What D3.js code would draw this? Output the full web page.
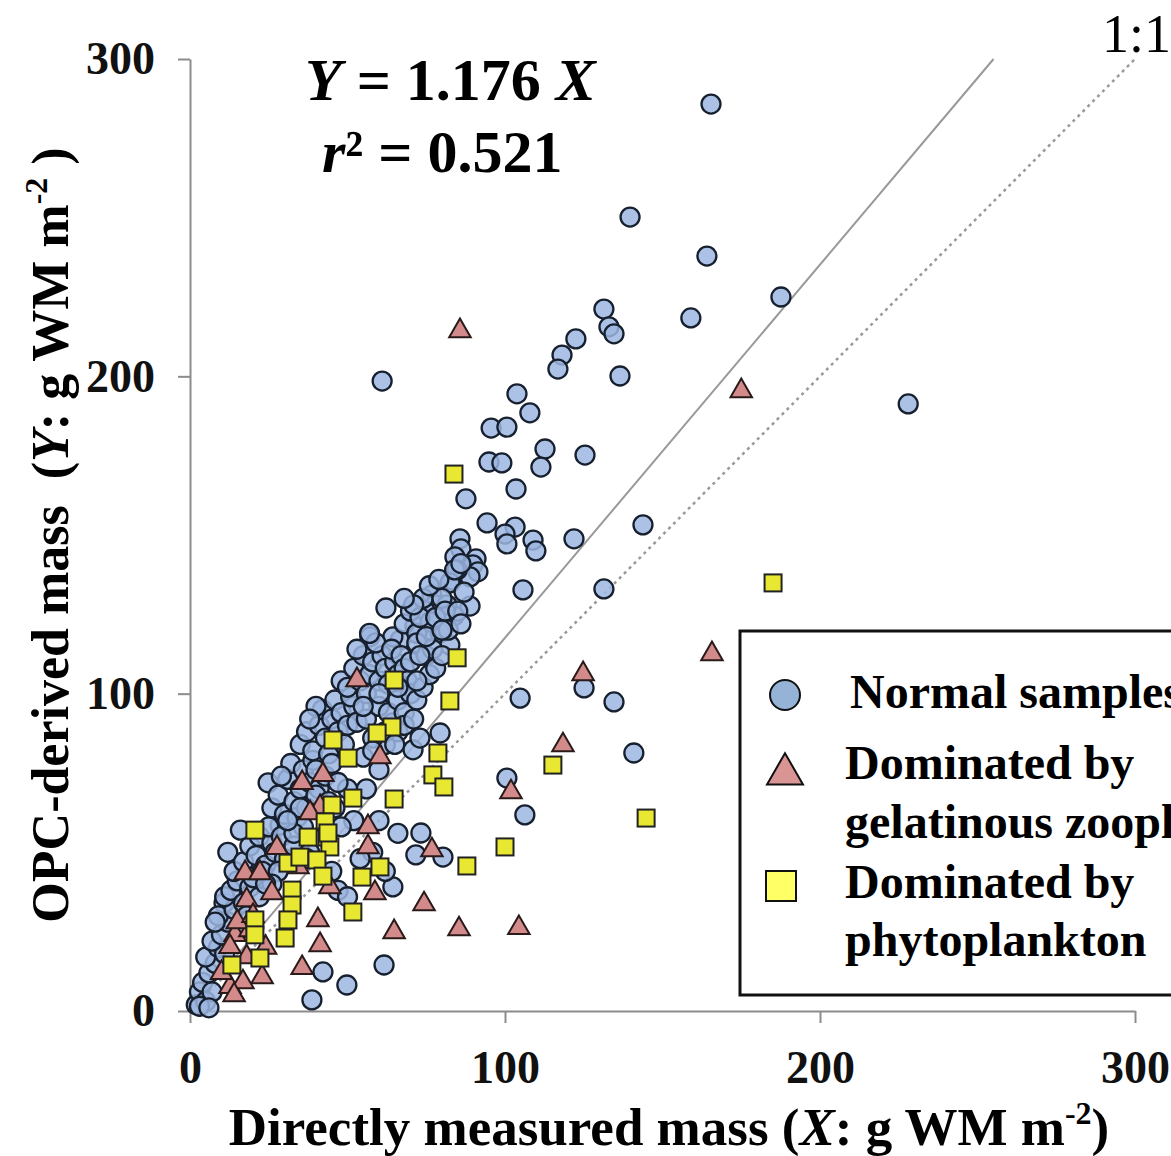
<!DOCTYPE html>
<html>
<head>
<meta charset="utf-8">
<script src="https://cdn.jsdelivr.net/npm/d3@7"></script>
<style>
  body { margin: 0; background: #fff; }
  svg { display: block; font-family: 'Liberation Serif', 'Times New Roman', serif; }
</style>
</head>
<body>
<div id="chart"></div>
<script>
// Data: [X measured, Y OPC-derived] in g WM m-2
var normalSamples = [
  [165.4, 285.8], [139.7, 250.2], [164.1, 237.9], [187.6, 225.0], [131.4, 221.2],
  [159.0, 218.4], [133.0, 215.6], [134.6, 213.4], [122.5, 211.8], [118.1, 206.7],
  [116.8, 202.3], [136.5, 200.1], [61.0, 198.5], [103.8, 194.5], [107.9, 188.5],
  [228.0, 191.3], [95.6, 183.7], [100.6, 184.0], [112.7, 177.1], [94.9, 173.0],
  [99.0, 172.7], [125.4, 175.2], [111.4, 171.4], [103.5, 164.5], [87.6, 161.4],
  [143.8, 153.2], [94.3, 153.8], [103.2, 152.5], [108.9, 148.4], [100.0, 150.3],
  [121.9, 148.8], [100.6, 147.2], [109.8, 145.0], [85.7, 148.8], [86.0, 145.6],
  [84.1, 143.1], [90.8, 142.5], [89.8, 140.6], [91.4, 138.4], [83.2, 135.8],
  [88.9, 136.8], [105.7, 132.7], [131.4, 133.0], [62.2, 127.0], [88.9, 127.6],
  [76.8, 131.1], [77.8, 128.0], [83.8, 124.5], [66.7, 116.9], [57.1, 117.9],
  [74.6, 126.1], [71.4, 121.3], [76.2, 120.1], [79.4, 119.1], [82.5, 115.3],
  [84.8, 139.0], [82.5, 134.9], [81.6, 128.0], [76.2, 122.6],
  [104.8, 98.6], [125.1, 101.8], [134.6, 97.4], [140.9, 81.3], [100.6, 73.4],
  [106.3, 61.8], [73.3, 56.1], [71.7, 49.2], [24.8, 71.9], [10.8, 34.0],
  [42.2, 12.3], [49.8, 8.2], [38.7, 3.5], [61.6, 14.5], [64.4, 39.1],
  [80.3, 48.5], [79.4, 87.6], [70.8, 82.3], [64.4, 90.8], [64.4, 117.9], [28.6, 58.6],
  [2, 2], [3, 6], [5, 3], [4, 9], [6, 12], [7, 6], [8, 15], [5, 17], [9, 20],
  [11, 18], [3, 1.5], [6, 1], [7, 22],
  [10, 24], [12, 28], [9, 30], [14, 32], [11, 36], [16, 26], [13, 38], [17, 34],
  [15, 41], [19, 39], [8, 28],
  [12, 50], [14, 44], [17, 47], [19, 52], [21, 49], [16, 57], [22, 55], [24, 46],
  [26, 53], [20, 42], [25, 58], [27, 50], [23, 44], [29, 55],
  [26, 64], [28, 68], [30, 62], [31, 73], [33, 66], [35, 70], [32, 78], [36, 76],
  [38, 72], [34, 61], [29, 74], [37, 64], [39, 79], [41, 70],
  [35, 84], [37, 88], [39, 82], [41, 90], [43, 86], [42, 95], [45, 92], [44, 81],
  [47, 88], [46, 98], [48, 94], [50, 90], [49, 84], [52, 96], [40, 96], [38, 92],
  [51, 99], [53, 91],
  [48, 104], [50, 102], [52, 108], [54, 104], [55, 112], [57, 106], [56, 100],
  [58, 110], [60, 104], [61, 112], [59, 116], [62, 108], [63, 103], [65, 110],
  [64, 114], [66, 106], [67, 112], [68, 108], [53, 114], [57, 119], [70, 110], [69, 104],
  [68, 122], [70, 126], [72, 119], [73, 124], [74, 130], [78, 124], [80, 130],
  [81, 126], [76, 134], [79, 136], [84, 139], [86, 141], [87, 132], [72, 116],
  [75, 112], [77, 114],
  [62, 44], [58, 50], [54, 48], [66, 56], [60, 60], [52, 60], [48, 58], [46, 64],
  [56, 70], [50, 70], [60, 76], [55, 80], [62, 84], [66, 88], [58, 86],
  [56, 92], [60, 96], [63, 94], [66, 98], [68, 94], [70, 100], [72, 98], [58, 82],
  [62, 88], [65, 84], [68, 90], [71, 92], [73, 86], [60, 100], [55, 96],
  [74, 102], [76, 106], [72, 104], [78, 108], [80, 112], [75, 118], [82, 120],
  [85, 126], [86, 122], [71, 128], [68, 130], [80, 120], [73, 112], [66, 102],
  [30, 48], [33, 52], [36, 58], [38, 50], [28, 44], [26, 40], [22, 36], [24, 40],
  [18, 30], [35, 64], [40, 68], [43, 74], [45, 78], [47, 72], [40, 76], [44, 66],
  [33, 56], [31, 60], [37, 48], [47, 38], [50, 36], [45, 44]
]

var gelatinous = [
  [85.7, 214.3], [175.0, 195.4], [165.7, 112.5], [124.8, 106.2], [118.4, 83.8],
  [101.9, 69.0], [85.4, 25.8], [104.4, 26.2], [74.3, 33.7], [64.8, 24.9],
  [40.6, 28.7], [41.3, 20.8], [35.6, 13.6], [56.5, 58.0], [56.5, 51.7],
  [58.7, 37.2], [76.8, 50.7], [53.0, 104.3], [35.6, 71.9], [42.2, 74.4],
  [27.6, 51.4], [17.5, 43.5], [22.2, 43.5], [18.0, 35.0], [14.3, 24.0],
  [12.7, 20.2], [18.0, 17.0], [22.9, 10.7], [12.7, 7.6], [16.8, 9.1],
  [19.0, 25.5], [26.0, 37.2], [41.3, 64.3], [38.1, 62.4], [60.3, 80.0],
  [44.4, 39.1], [34.3, 45.4], [15, 28], [20, 30], [10, 12], [14, 5], [24, 20]
]

var phytoplankton = [
  [83.8, 169.2], [185.1, 134.9], [84.8, 111.3], [64.8, 104.3], [82.5, 97.7],
  [115.2, 77.5], [77.1, 74.4], [80.6, 70.6], [78.7, 81.3], [64.8, 66.8],
  [144.8, 60.8], [100.0, 51.7], [87.9, 45.7], [64.1, 89.5], [59.4, 87.6],
  [45.4, 85.4], [50.2, 79.7], [51.7, 67.1], [45.1, 64.9], [42.9, 59.6],
  [37.5, 54.8], [43.5, 54.8], [44.4, 51.7], [20.6, 57.0], [31.1, 46.6],
  [34.9, 48.5], [40.3, 47.6], [42.2, 42.5], [32.4, 38.1], [32.4, 33.4],
  [31.1, 28.7], [20.6, 28.7], [20.6, 24.0], [30.2, 23.0], [22.2, 16.7],
  [13.3, 14.5], [54.6, 42.2], [60.3, 45.4], [51.7, 31.2], [43.8, 56.1]
]

var xTicks = [0, 100, 200, 300]
var yTicks = [0, 100, 200, 300]
var slope = 1.176
var legendLabels = [
  ['Normal samples'],
  ['Dominated by', 'gelatinous zooplankton'],
  ['Dominated by', 'phytoplankton']
]

;(function () {
  // Dimensions
  var w = 1171
  var h = 1156
  var plotLeft = 190
  var plotRight = 1135
  var plotTop = 59
  var plotBottom = 1011

  var svg = d3.select('#chart').append('svg')
    .attr('width', w)
    .attr('height', h)

  var x = d3.scaleLinear().domain([0, 300]).range([plotLeft, plotRight])
  var y = d3.scaleLinear().domain([0, 300]).range([plotBottom, plotTop])

  // Axes
  svg.append('g')
    .attr('transform', 'translate(' + plotLeft + ',0)')
    .call(d3.axisLeft(y).tickValues(yTicks).tickSize(12).tickSizeOuter(0).tickPadding(23))
  svg.append('g')
    .attr('transform', 'translate(0,' + plotBottom + ')')
    .call(d3.axisBottom(x).tickValues(xTicks).tickSize(12).tickSizeOuter(0).tickPadding(27))

  svg.selectAll('.domain, .tick line')
    .attr('stroke', '#8c8c8c')
    .attr('stroke-width', 2)
  svg.selectAll('.tick text')
    .attr('font-family', "'Liberation Serif', serif")
    .attr('font-size', 46)
    .attr('font-weight', 'bold')
    .attr('fill', '#111')

  // Regression line and 1:1 line
  var line = d3.line()
    .x(function (d) { return x(d[0]) })
    .y(function (d) { return y(d[1]) })

  svg.append('path')
    .attr('d', line([[0, 0], [300 / slope, 300]]))
    .attr('stroke', '#999')
    .attr('stroke-width', 2)
    .attr('fill', 'none')

  svg.append('path')
    .attr('d', line([[0, 0], [300, 300]]))
    .attr('stroke', '#999')
    .attr('stroke-width', 2.5)
    .attr('stroke-dasharray', '3,4')
    .attr('fill', 'none')

  // Points
  var pts = svg.append('g')

  pts.selectAll('circle').data(normalSamples).enter().append('circle')
    .attr('cx', function (d) { return x(d[0]) })
    .attr('cy', function (d) { return y(d[1]) })
    .attr('r', 9.5)
    .attr('fill', '#9cb6e0')
    .attr('fill-opacity', 0.85)
    .attr('stroke', '#17202e')
    .attr('stroke-width', 2.3)

  var tri = d3.symbol().type(d3.symbolTriangle).size(200)
  pts.selectAll('path.tri').data(gelatinous).enter().append('path')
    .attr('class', 'tri')
    .attr('d', tri)
    .attr('transform', function (d) { return 'translate(' + x(d[0]) + ',' + y(d[1]) + ')' })
    .attr('fill', '#d28a8a')
    .attr('stroke', '#2a1a1a')
    .attr('stroke-width', 2)

  pts.selectAll('rect.sq').data(phytoplankton).enter().append('rect')
    .attr('class', 'sq')
    .attr('x', function (d) { return x(d[0]) - 8.5 })
    .attr('y', function (d) { return y(d[1]) - 8.5 })
    .attr('width', 17)
    .attr('height', 17)
    .attr('fill', '#e8e832')
    .attr('stroke', '#222')
    .attr('stroke-width', 2)

  // Equation text
  var eq = svg.append('text')
    .attr('x', 305).attr('y', 100)
    .attr('font-size', 60).attr('font-weight', 'bold')
  eq.append('tspan').attr('font-style', 'italic').text('Y')
  eq.append('tspan').text(' = 1.176 ')
  eq.append('tspan').attr('font-style', 'italic').text('X')

  var r2 = svg.append('text')
    .attr('x', 322).attr('y', 172)
    .attr('font-size', 60).attr('font-weight', 'bold')
  r2.append('tspan').attr('font-style', 'italic').text('r')
  r2.append('tspan').text('² = 0.521')

  svg.append('text')
    .attr('x', 1102).attr('y', 52)
    .attr('font-size', 54)
    .text('1:1')

  // Axis titles
  var xt = svg.append('text')
    .attr('x', 669).attr('y', 1145)
    .attr('text-anchor', 'middle')
    .attr('font-size', 53).attr('font-weight', 'bold')
  xt.append('tspan').text('Directly measured mass (')
  xt.append('tspan').attr('font-style', 'italic').text('X')
  xt.append('tspan').text(': g WM m')
  xt.append('tspan').attr('font-size', 32).attr('dy', -21).text('-2')
  xt.append('tspan').attr('dy', 21).text(')')

  var yt = svg.append('text')
    .attr('transform', 'translate(68,535) rotate(-90)')
    .attr('text-anchor', 'middle')
    .attr('font-size', 52).attr('font-weight', 'bold')
    .style('white-space', 'pre')
  yt.append('tspan').text('OPC-derived mass  (')
  yt.append('tspan').attr('font-style', 'italic').text('Y')
  yt.append('tspan').text(': g WM m')
  yt.append('tspan').attr('font-size', 32).attr('dy', -21).text('-2')
  yt.append('tspan').attr('dy', 21).text(' )')

  // Legend
  var lg = svg.append('g')
  lg.append('rect')
    .attr('x', 740).attr('y', 631)
    .attr('width', 500).attr('height', 364)
    .attr('fill', '#fff')
    .attr('stroke', '#111')
    .attr('stroke-width', 3)

  lg.append('circle')
    .attr('cx', 785).attr('cy', 695).attr('r', 15)
    .attr('fill', '#95b3d7').attr('stroke', '#111').attr('stroke-width', 2)
  lg.append('path')
    .attr('d', d3.symbol().type(d3.symbolTriangle).size(560))
    .attr('transform', 'translate(785,774)')
    .attr('fill', '#d99594').attr('stroke', '#111').attr('stroke-width', 2)
  lg.append('rect')
    .attr('x', 766).attr('y', 871).attr('width', 30).attr('height', 30)
    .attr('fill', '#ffff66').attr('stroke', '#111').attr('stroke-width', 2)

  var rows = [[850, [708]], [845, [779, 838]], [845, [898, 956]]]
  legendLabels.forEach(function (lines, i) {
    lines.forEach(function (t, j) {
      lg.append('text')
        .attr('x', rows[i][0]).attr('y', rows[i][1][j])
        .attr('font-size', 48).attr('font-weight', 'bold')
        .text(t)
    })
  })
}())
</script>
</body>
</html>
